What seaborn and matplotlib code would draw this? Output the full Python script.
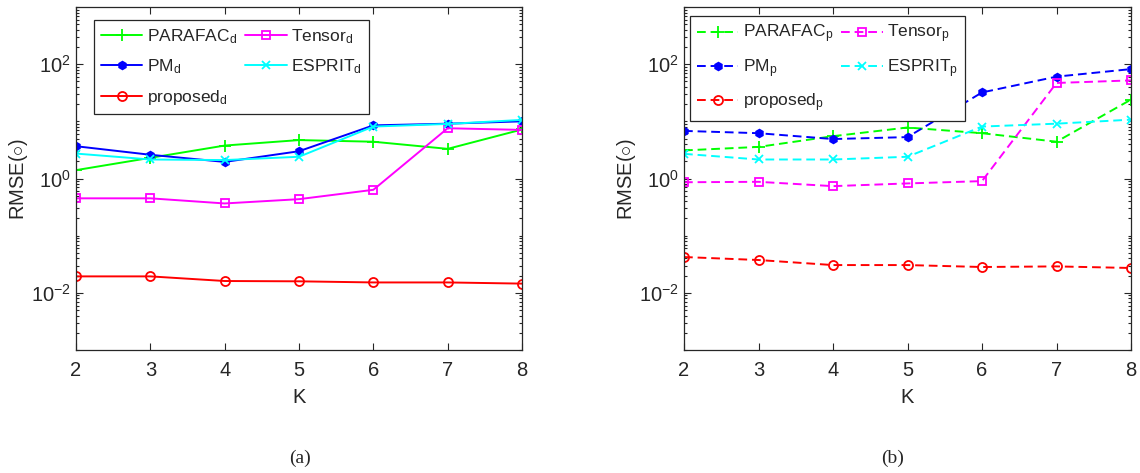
import matplotlib

matplotlib.use("Agg")
import matplotlib.pyplot as plt
import matplotlib.ticker as mticker
import pandas as pd
import seaborn as sns


K_VALUES = [2, 3, 4, 5, 6, 7, 8]

# panel (a): distance estimates
PARAFAC_D = [1.4, 2.3, 3.77, 4.7, 4.4, 3.3, 7.2]
PM_D = [3.67, 2.6, 1.95, 3.0, 8.5, 9.1, 10.0]
ESPRIT_D = [2.73, 2.15, 2.1, 2.4, 8.1, 9.0, 10.6]
TENSOR_D = [0.45, 0.45, 0.366, 0.435, 0.634, 7.57, 7.08]
PROPOSED_D = [0.0194, 0.0194, 0.0161, 0.0159, 0.0152, 0.0152, 0.0145]

# panel (b): angle estimates
PARAFAC_P = [3.1, 3.57, 5.5, 7.8, 6.2, 4.4, 24.0]
PM_P = [6.8, 6.2, 4.9, 5.3, 32.0, 60.5, 82.0]
ESPRIT_P = [2.7, 2.15, 2.15, 2.4, 8.1, 9.1, 10.7]
TENSOR_P = [0.86, 0.875, 0.735, 0.82, 0.9, 46.9, 52.0]
PROPOSED_P = [0.0423, 0.0375, 0.0306, 0.0306, 0.0283, 0.029, 0.0272]

METHODS = ["PARAFAC", "PM", "proposed", "Tensor", "ESPRIT"]
COLORS = {
    "PARAFAC": "#00ff00",
    "PM": "#0000ff",
    "proposed": "#ff0000",
    "Tensor": "#ff00ff",
    "ESPRIT": "#00ffff",
}
MARKERS = {
    "PARAFAC": "+",
    "PM": "h",
    "proposed": "o",
    "Tensor": "s",
    "ESPRIT": "x",
}
MARKER_SIZES = {"PARAFAC": 8, "PM": 5.5, "proposed": 6.5, "Tensor": 6, "ESPRIT": 6}

PANEL_D = {
    "PARAFAC": PARAFAC_D,
    "PM": PM_D,
    "proposed": PROPOSED_D,
    "Tensor": TENSOR_D,
    "ESPRIT": ESPRIT_D,
}
PANEL_P = {
    "PARAFAC": PARAFAC_P,
    "PM": PM_P,
    "proposed": PROPOSED_P,
    "Tensor": TENSOR_P,
    "ESPRIT": ESPRIT_P,
}


sns.set_style("ticks")
plt.rcParams["font.family"] = ["Liberation Sans", "DejaVu Sans"]
plt.rcParams["mathtext.fontset"] = "custom"
plt.rcParams["mathtext.rm"] = "Liberation Sans"
plt.rcParams["mathtext.it"] = "Liberation Sans:italic"
plt.rcParams["mathtext.bf"] = "Liberation Sans:bold"

TEXT_COLOR = "#262626"

fig = plt.figure(figsize=(11.4, 4.73), dpi=100)
ax_a = fig.add_axes([76 / 1140, 1 - 350 / 473, 446 / 1140, 343 / 473])
ax_b = fig.add_axes([684 / 1140, 1 - 350 / 473, 447 / 1140, 343 / 473])


def draw_panel(ax, panel, sub, dashed, legend_anchor):
    for method in METHODS:
        df = pd.DataFrame({"K": K_VALUES, "RMSE": panel[method]})
        filled = method == "PM"
        sns.lineplot(
            data=df,
            x="K",
            y="RMSE",
            ax=ax,
            color=COLORS[method],
            marker=MARKERS[method],
            markersize=MARKER_SIZES[method],
            markerfacecolor=COLORS[method] if filled else "none",
            markeredgecolor=COLORS[method],
            markeredgewidth=1.3,
            linewidth=1.4,
            linestyle=(0, (4.5, 2.5)) if dashed else "-",
            label=method + r"$_\mathrm{" + sub + "}$",
        )

    ax.set_yscale("log")
    ax.set_ylim(1e-3, 1e3)
    ax.set_xlim(2, 8)
    ax.set_xticks(K_VALUES)
    ax.yaxis.set_major_locator(mticker.FixedLocator([1e-2, 1e0, 1e2]))
    ax.yaxis.set_major_formatter(mticker.LogFormatterSciNotation())
    ax.yaxis.set_minor_locator(
        mticker.LogLocator(base=10, subs=[1, 2, 3, 4, 5, 6, 7, 8, 9], numticks=20)
    )
    ax.yaxis.set_minor_formatter(mticker.NullFormatter())

    ax.tick_params(
        which="both", direction="in", top=True, right=True,
        colors=TEXT_COLOR, labelsize=14.5, width=0.8,
    )
    ax.tick_params(which="major", length=5)
    ax.tick_params(which="minor", length=2.5)
    ax.tick_params(axis="x", pad=8)
    for spine in ax.spines.values():
        spine.set_visible(True)
        spine.set_color(TEXT_COLOR)
        spine.set_linewidth(0.9)

    ax.set_xlabel("K", fontsize=14.5, color=TEXT_COLOR, labelpad=6)
    ax.set_ylabel(r"RMSE($\circ$)", fontsize=14.5, color=TEXT_COLOR, labelpad=1)

    leg = ax.legend(
        ncol=2,
        loc="upper left",
        bbox_to_anchor=legend_anchor,
        borderaxespad=0,
        fontsize=12.5,
        frameon=True,
        fancybox=False,
        framealpha=1,
        edgecolor=TEXT_COLOR,
        handlelength=2.4,
        handletextpad=0.25,
        columnspacing=0.45,
        labelspacing=0.68,
        borderpad=0.4,
    )
    leg.get_frame().set_linewidth(0.9)
    for text in leg.get_texts():
        text.set_color(TEXT_COLOR)


draw_panel(ax_a, PANEL_D, "d", False, (0.040, 0.962))
draw_panel(ax_b, PANEL_P, "p", True, (0.013, 0.974))

fig.text(300 / 1140, 1 - 458 / 473, "(a)", ha="center", va="center",
         fontsize=14, family=["Liberation Serif", "DejaVu Serif"])
fig.text(893 / 1140, 1 - 458 / 473, "(b)", ha="center", va="center",
         fontsize=14, family=["Liberation Serif", "DejaVu Serif"])

fig.savefig("out.png", dpi=100)
